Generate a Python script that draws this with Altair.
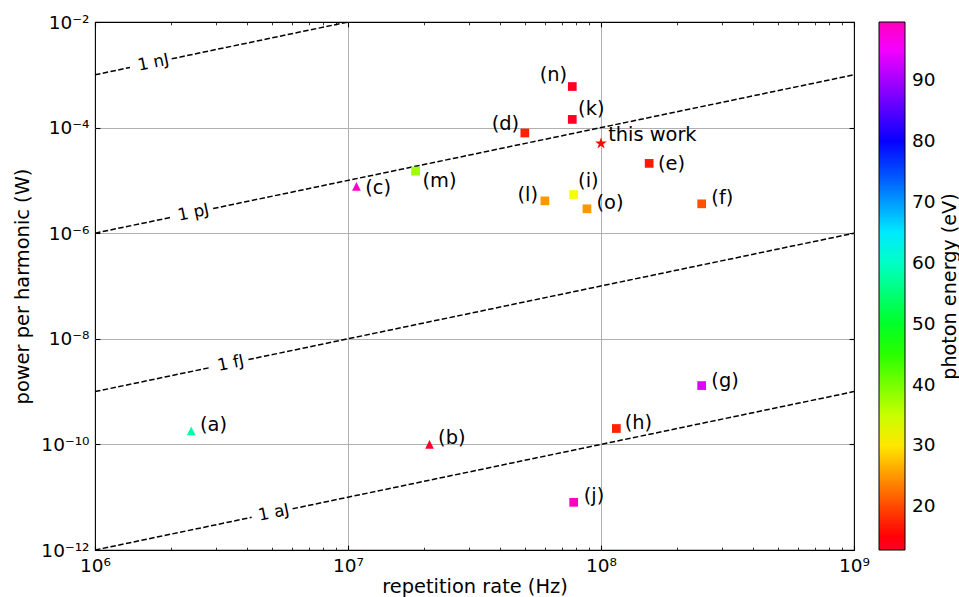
import math

import altair as alt
import pandas as pd

FONT = "DejaVu Sans"

# ---- published results (a)-(o) and this work ----
labels = ["(a)", "(b)", "(c)", "(d)", "(e)", "(f)", "(g)", "(h)",
          "(i)", "(j)", "(k)", "(l)", "(m)", "(n)", "(o)", "this work"]
rep_rate_hz = [2.4e6, 2.1e7, 1.08e7, 5.0e7, 1.55e8, 2.5e8, 2.5e8, 1.15e8,
               7.8e7, 7.8e7, 7.7e7, 6.0e7, 1.85e7, 7.7e7, 8.8e7, 1.0e8]
power_w = [1.8e-10, 1.0e-10, 7.7e-6, 7.9e-5, 2.1e-5, 3.6e-6, 1.3e-9, 2.0e-10,
           5.4e-6, 8.0e-12, 1.43e-4, 4.1e-6, 1.5e-5, 6.0e-4, 2.9e-6, 5.0e-5]
photon_ev = [57.7, 12.8, 99.0, 17.5, 17.0, 20.5, 93.7, 17.5,
             32.0, 99.6, 13.2, 25.0, 37.5, 13.2, 25.0, 15.8]
marker = ["triangle"] * 3 + ["square"] * 12 + ["star"]
# anchor of each tag: x = edge of the text nearest the marker, y = text centre
label_rate_hz = [2.60e6, 2.27e7, 1.17e7, 4.75e7, 1.68e8, 2.73e8, 2.73e8, 1.24e8,
                 8.12e7, 8.55e7, 8.12e7, 5.64e7, 1.97e7, 7.35e7, 9.60e7, 1.067e8]
label_power_w = [2.36e-10, 1.34e-10, 7.2e-6, 1.19e-4, 2.07e-5, 4.6e-6, 1.62e-9, 2.54e-10,
                 9.66e-6, 1.05e-11, 2.29e-4, 5.27e-6, 9.66e-6, 9.77e-4, 3.67e-6, 7.1e-5]

# ---- lines of constant pulse energy, P = E * f ----
pulse_energy_j = [1e-9, 1e-12, 1e-15, 1e-18]
pulse_energy_text = ["1 nJ", "1 pJ", "1 fJ", "1 aJ"]
contour_label_hz = [1.70e6, 2.45e6, 3.44e6, 5.09e6]
contour_gap_from_hz = [1.375e6, 1.98e6, 2.86e6, 4.16e6]
contour_gap_to_hz = [2.01e6, 2.93e6, 4.04e6, 6.04e6]

# ---- axes ----
F_MIN, F_MAX = 1e6, 1e9
P_MIN, P_MAX = 1e-12, 1e-2
x_major = [1e6, 1e7, 1e8, 1e9]
x_minor = [m * 10.0 ** e for e in (6, 7, 8) for m in range(2, 10)]
y_major = [1e-12, 1e-10, 1e-8, 1e-6, 1e-4, 1e-2]
x_exponents = [6, 7, 8, 9]
y_exponents = [-12, -10, -8, -6, -4, -2]

# gist_rainbow colour map stops
cmap_pos = [0.000, 0.030, 0.215, 0.400, 0.586, 0.770, 0.954, 1.000]
cmap_colors = ["#ff0029", "#ff0000", "#ffff00", "#00ff00",
               "#00ffff", "#0000ff", "#ff00ff", "#ff00bf"]
colorbar_ticks = [20, 30, 40, 50, 60, 70, 80, 90]

W, H = 759, 528

points = pd.DataFrame({
    "label": labels, "f": rep_rate_hz, "p": power_w, "energy": photon_ev,
    "marker": marker, "lf": label_rate_hz, "lp": label_power_w,
})

rows = []
for text, e, g0, g1 in zip(pulse_energy_text, pulse_energy_j,
                            contour_gap_from_hz, contour_gap_to_hz):
    for k, (f0, f1) in enumerate([(F_MIN, g0), (g1, F_MAX)]):
        for f in (f0, f1):
            rows.append({"seg": f"{text}-{k}", "f": f, "p": e * f})
lines = pd.DataFrame(rows)
contour_labels = pd.DataFrame({
    "text": pulse_energy_text, "f": contour_label_hz,
    "p": [e * f for e, f in zip(pulse_energy_j, contour_label_hz)],
})

# on-screen slope of the iso-energy lines
px_per_dec_x = W / math.log10(F_MAX / F_MIN)
px_per_dec_y = H / math.log10(P_MAX / P_MIN)
line_angle = 360 - math.degrees(math.atan(px_per_dec_y / px_per_dec_x))

# five-pointed star symbol
star_pts = []
for k in range(10):
    r = 1.0 if k % 2 == 0 else 0.382
    a = math.radians(-90 + 36 * k)
    star_pts.append(f"{r * math.cos(a):.3f},{r * math.sin(a):.3f}")
STAR = "M" + "L".join(star_pts) + "Z"
TRIANGLE = "M0,-1L1,1L-1,1Z"

SUP = str.maketrans("-0123456789", "⁻⁰¹²³⁴⁵⁶⁷⁸⁹")


def power_label_expr(exps):
    expr = "''"
    for e in exps:
        expr = f"round(log(datum.value)/LN10) == {e} ? '10{str(e).translate(SUP)}' : ({expr})"
    return expr


xs = alt.Scale(type="log", domain=[F_MIN, F_MAX], nice=False)
ys = alt.Scale(type="log", domain=[P_MIN, P_MAX], nice=False)

MAJ, MIN_ = 4.9, 2.8


def tick_axis(orient, values, size, width):
    return alt.Axis(orient=orient, values=values, offset=-size, tickSize=size,
                    tickWidth=width, tickColor="black", ticks=True, labels=False,
                    domain=False, grid=False, title=None)


def grid_axis(orient, values):
    return alt.Axis(orient=orient, values=values, grid=True, gridColor="#b0b0b0",
                    gridWidth=1, ticks=False, labels=False, domain=False, title=None)


x_label_axis = alt.Axis(
    orient="bottom", values=x_major, labelExpr=power_label_expr(x_exponents),
    ticks=False, tickSize=0, domain=False, grid=False, labelPadding=6,
    labelFlush=False, labelOverlap=False, labelFontSize=18.5, labelColor="black",
    labelFont=FONT, title="repetition rate (Hz)", titleFontSize=19.4,
    titleFontWeight="normal", titleColor="black", titleFont=FONT,
    titleY=42, titleX=W / 2, titleBaseline="alphabetic", titleAlign="center")
y_label_axis = alt.Axis(
    orient="left", values=y_major, labelExpr=power_label_expr(y_exponents),
    ticks=False, tickSize=0, domain=False, grid=False, labelPadding=6,
    labelFlush=False, labelOverlap=False, labelFontSize=18.5, labelColor="black",
    labelFont=FONT, title="power per harmonic (W)", titleFontSize=19.4,
    titleFontWeight="normal", titleColor="black", titleFont=FONT,
    titleAngle=270, titleX=-67, titleY=H / 2, titleBaseline="alphabetic",
    titleAlign="center")
colorbar_title_axis = alt.Axis(
    orient="right", labels=False, ticks=False, domain=False, grid=False,
    title="photon energy (eV)", titleFontSize=19.2, titleFontWeight="normal",
    titleColor="black", titleFont=FONT, titleAngle=270, titleX=101,
    titleY=H / 2, titleBaseline="alphabetic", titleAlign="center")

e_min, e_max = min(photon_ev), max(photon_ev)
color_scale = alt.Scale(domain=[e_min + p * (e_max - e_min) for p in cmap_pos],
                        range=cmap_colors, interpolate="rgb")
color_legend = alt.Legend(
    orient="none", legendX=784, legendY=0, direction="vertical", title=None,
    gradientLength=528, gradientThickness=26, gradientStrokeColor="black",
    gradientStrokeWidth=1, values=colorbar_ticks, labelFontSize=18.5,
    labelFont=FONT, labelColor="black", labelOffset=7, labelOverlap=False,
    padding=0)

iso_lines = alt.Chart(lines).mark_line(
    color="black", strokeWidth=1.5, strokeDash=[5.5, 2.4], clip=True
).encode(
    x=alt.X("f:Q", scale=xs, axis=x_label_axis),
    y=alt.Y("p:Q", scale=ys, axis=y_label_axis),
    detail="seg:N",
)

iso_text = alt.Chart(contour_labels).mark_text(
    font=FONT, fontSize=16.7, color="black", angle=line_angle,
    align="center", baseline="middle"
).encode(
    x=alt.X("f:Q", scale=xs, axis=grid_axis("bottom", [1e7, 1e8])),
    y=alt.Y("p:Q", scale=ys, axis=grid_axis("left", [1e-10, 1e-8, 1e-6, 1e-4])),
    text="text:N",
)

dots = alt.Chart(points).mark_point(filled=True, opacity=1, strokeWidth=0).encode(
    x=alt.X("f:Q", scale=xs, axis=tick_axis("bottom", x_major, MAJ, 1.1)),
    y=alt.Y("p:Q", scale=ys, axis=tick_axis("left", y_major, MAJ, 1.1)),
    color=alt.Color("energy:Q", scale=color_scale, legend=color_legend),
    shape=alt.Shape("marker:N", legend=None,
                    scale=alt.Scale(domain=["triangle", "square", "star"],
                                    range=[TRIANGLE, "square", STAR])),
    size=alt.condition(alt.datum.marker == "star", alt.value(150), alt.value(76)),
)

tag_style = dict(font=FONT, fontSize=19.4, color="black", baseline="middle")

tags_right = alt.Chart(points).transform_filter(
    "datum.lf > datum.f && datum.label != 'this work'"
).mark_text(align="left", **tag_style).encode(
    x=alt.X("lf:Q", scale=xs, axis=tick_axis("bottom", x_minor, MIN_, 0.8)),
    y=alt.Y("lp:Q", scale=ys, axis=tick_axis("right", y_major, MAJ, 1.1)),
    text="label:N",
)

tags_left = alt.Chart(points).transform_filter(
    "datum.lf < datum.f"
).mark_text(align="right", **tag_style).encode(
    x=alt.X("lf:Q", scale=xs, axis=tick_axis("top", x_major, MAJ, 1.1)),
    y=alt.Y("lp:Q", scale=ys, axis=colorbar_title_axis),
    text="label:N",
)

tag_this_work = alt.Chart(points).transform_filter(
    "datum.label == 'this work'"
).mark_text(align="left", **tag_style).encode(
    x=alt.X("lf:Q", scale=xs, axis=tick_axis("top", x_minor, MIN_, 0.8)),
    y=alt.Y("lp:Q", scale=ys, axis=None),
    text="label:N",
)

chart = alt.layer(
    iso_lines, iso_text, dots, tags_right, tags_left, tag_this_work
).resolve_axis(
    x="independent", y="independent"
).properties(
    width=W, height=H,
    padding={"left": 95, "top": 22, "right": 105, "bottom": 47},
    autosize=alt.AutoSizeParams(type="none"),
).configure(
    font=FONT, background="white"
).configure_view(
    stroke="black", strokeWidth=1.1
)

chart.save("out.html", embed_options={"renderer": "svg", "actions": False})
